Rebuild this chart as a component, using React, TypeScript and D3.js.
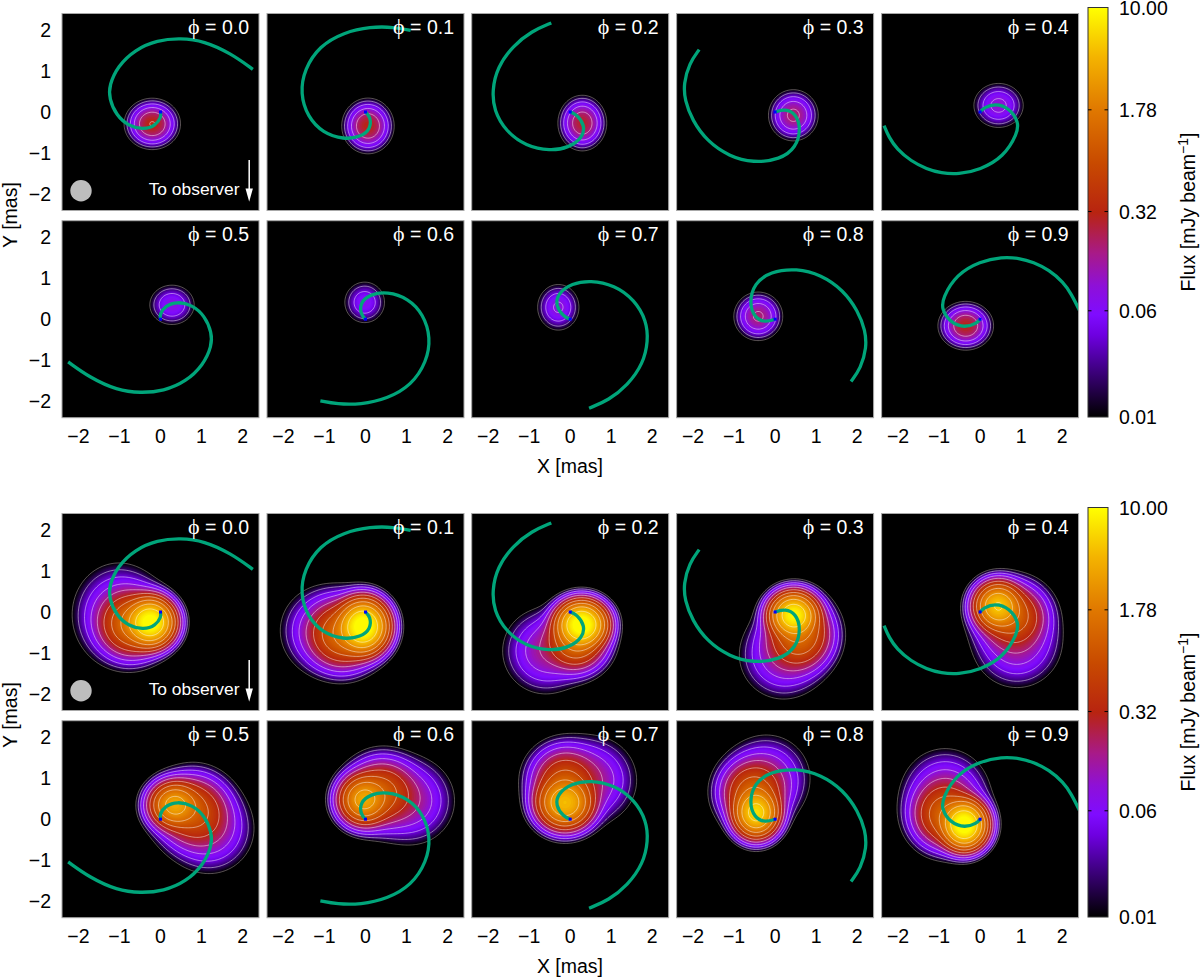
import * as d3 from 'd3';
import { useMemo } from 'react';

// phases and axis labels
const phases = ['0.0', '0.1', '0.2', '0.3', '0.4', '0.5', '0.6', '0.7', '0.8', '0.9'];
const axisTicks = [-2, -1, 0, 1, 2];
const fluxTicks = [0.01, 0.06, 0.32, 1.78, 10.0];

// orbit arm per phase, [x, y] in mas
const arms: number[][][] = [
  [[0, 0], [0.02, -0.12], [-0.12, -0.33], [-0.41, -0.43], [-0.77, -0.35], [-1.08, -0.08], [-1.25, 0.33], [-1.25, 0.65], [-1.04, 1.12], [-0.62, 1.52], [-0.08, 1.75], [0.49, 1.8], [1.06, 1.73], [1.71, 1.43], [2.25, 1.04]],
  [[0, 0], [0.12, -0.12], [0.13, -0.41], [-0.12, -0.61], [-0.53, -0.67], [-1.04, -0.51], [-1.41, -0.12], [-1.59, 0.45], [-1.49, 1.04], [-1.12, 1.61], [-0.53, 1.94], [0.12, 2.08], [0.69, 2.07], [1.1, 1.99]],
  [[0, 0], [0.16, -0.06], [0.36, -0.33], [0.3, -0.63], [-0.04, -0.87], [-0.49, -0.95], [-1.08, -0.83], [-1.57, -0.47], [-1.86, 0.04], [-1.9, 0.53], [-1.78, 1.08], [-1.4, 1.61], [-0.94, 1.97], [-0.46, 2.17]],
  [[0, 0], [0.24, 0.08], [0.51, -0.04], [0.63, -0.41], [0.51, -0.87], [0.12, -1.16], [-0.53, -1.24], [-1.12, -1.08], [-1.66, -0.71], [-2.02, -0.2], [-2.2, 0.28], [-2.23, 0.69], [-2.09, 1.19], [-1.85, 1.52]],
  [[0, 0], [0.08, 0.1], [0.37, 0.21], [0.72, 0.09], [0.94, -0.25], [0.91, -0.52], [0.58, -1.09], [0, -1.41], [-0.53, -1.52], [-0.95, -1.49], [-1.3, -1.39], [-1.68, -1.2], [-2.03, -0.9], [-2.22, -0.62], [-2.34, -0.33]],
  [[0, 0], [-0.02, 0.12], [0.12, 0.33], [0.41, 0.43], [0.77, 0.35], [1.08, 0.08], [1.25, -0.33], [1.25, -0.65], [1.04, -1.12], [0.62, -1.52], [0.08, -1.75], [-0.49, -1.8], [-1.06, -1.73], [-1.71, -1.43], [-2.25, -1.04]],
  [[0, 0], [-0.12, 0.12], [-0.13, 0.41], [0.12, 0.61], [0.53, 0.67], [1.04, 0.51], [1.41, 0.12], [1.59, -0.45], [1.49, -1.04], [1.12, -1.61], [0.53, -1.94], [-0.12, -2.08], [-0.69, -2.07], [-1.1, -1.99]],
  [[0, 0], [-0.16, 0.06], [-0.36, 0.33], [-0.3, 0.63], [0.04, 0.87], [0.49, 0.95], [1.08, 0.83], [1.57, 0.47], [1.86, -0.04], [1.9, -0.53], [1.78, -1.08], [1.4, -1.61], [0.94, -1.97], [0.46, -2.17]],
  [[0, 0], [-0.24, -0.08], [-0.51, 0.04], [-0.63, 0.41], [-0.51, 0.87], [-0.12, 1.16], [0.53, 1.24], [1.12, 1.08], [1.66, 0.71], [2.02, 0.2], [2.2, -0.28], [2.23, -0.69], [2.09, -1.19], [1.85, -1.52]],
  [[0, 0], [-0.08, -0.1], [-0.37, -0.21], [-0.72, -0.09], [-0.94, 0.25], [-0.91, 0.52], [-0.58, 1.09], [0, 1.41], [0.53, 1.52], [0.95, 1.49], [1.3, 1.39], [1.68, 1.2], [2.03, 0.9], [2.22, 0.62], [2.42, 0.22]],
];

// emission components per phase: [x, y, sigma x, sigma y, flux]
const compactFlux: number[][][] = [
  [[-0.2, -0.29, 0.26, 0.237, 0.33]],
  [[0.06, -0.34, 0.244, 0.259, 0.31]],
  [[0.295, -0.27, 0.232, 0.264, 0.27]],
  [[0.445, -0.08, 0.25, 0.257, 0.19]],
  [[0.45, 0.16, 0.28, 0.25, 0.1]],
  [[0.28, 0.35, 0.265, 0.235, 0.08]],
  [[-0.02, 0.41, 0.245, 0.25, 0.07]],
  [[-0.29, 0.29, 0.24, 0.265, 0.09]],
  [[-0.41, 0.07, 0.248, 0.246, 0.18]],
  [[-0.35, -0.16, 0.26, 0.228, 0.3]],
];
const extendedFlux: number[][][] = [
  [[-0.24, -0.25, 0.25, 0.25, 11], [-0.7, -0.3, 0.36, 0.36, 1.3], [-1.02, -0.05, 0.49, 0.54, 0.14]],
  [[-0.05, -0.35, 0.26, 0.28, 12], [-0.55, -0.55, 0.38, 0.38, 1.2], [-1.0, -0.45, 0.465, 0.465, 0.14]],
  [[0.28, -0.3, 0.26, 0.24, 12], [0.15, -0.7, 0.33, 0.33, 1.3], [-0.6, -0.95, 0.455, 0.455, 0.14]],
  [[0.45, -0.07, 0.25, 0.235, 9], [0.6, -0.55, 0.36, 0.38, 1.2], [0.2, -1.05, 0.465, 0.465, 0.14]],
  [[0.43, 0.15, 0.25, 0.25, 5], [0.8, -0.1, 0.38, 0.36, 0.9], [0.9, -0.75, 0.475, 0.475, 0.14]],
  [[0.33, 0.35, 0.27, 0.25, 3.2], [0.8, 0.2, 0.4, 0.4, 0.8], [1.2, -0.25, 0.465, 0.465, 0.14]],
  [[-0.05, 0.47, 0.27, 0.27, 3.2], [0.4, 0.65, 0.38, 0.38, 0.8], [1.1, 0.45, 0.465, 0.465, 0.14]],
  [[-0.13, 0.39, 0.3, 0.28, 4.5], [-0.15, 0.95, 0.38, 0.38, 0.65], [0.55, 0.95, 0.465, 0.465, 0.14]],
  [[-0.46, 0.15, 0.24, 0.26, 6.5], [-0.55, 0.65, 0.36, 0.36, 0.9], [-0.2, 1.0, 0.455, 0.455, 0.14]],
  [[-0.38, -0.14, 0.235, 0.25, 12], [-0.85, 0.1, 0.37, 0.37, 1.0], [-0.85, 0.65, 0.465, 0.465, 0.14]],
];

// colour bar, position on the log axis and colour
const paletteStops = [0, 0.125, 0.2, 0.25, 0.32, 0.4, 0.5, 0.62, 0.75, 0.88, 1];
const paletteColors = ['#000000', '#44008c', '#6e00e0', '#7f0cff', '#8e10d8', '#a81a88', '#b82410', '#c84a00', '#e07800', '#f4b400', '#ffff00'];
const contourLevels = [0.01, 0.02, 0.04, 0.08, 0.16, 0.32, 0.64, 1.28, 2.56, 5.12];

const panelSize = 197;
const colX = [62, 267, 471.7, 676.6, 881.6];
const rowY = [13.5, 220.7];
const blockY = [0, 500];
const barH = 409.5;
const font = '"Liberation Sans", Arial, sans-serif';
const gridN = 144;

const xScale = d3.scaleLinear().domain([-2.4, 2.4]).range([0, panelSize]);
const yScale = d3.scaleLinear().domain([-2.4, 2.4]).range([panelSize, 0]);
const fluxScale = d3.scaleLog().domain([0.01, 10]).range([barH, 0]);
const colorOf = d3.scaleLinear<string>().domain(paletteStops).range(paletteColors).clamp(true);
const armLine = d3
  .line()
  .x((d) => xScale(d[0]))
  .y((d) => yScale(d[1]))
  .curve(d3.curveBasis);
const gridPath = d3.geoPath(d3.geoIdentity().scale(panelSize / gridN));
const bandLevels = d3.range(0, 64).map((i) => -2 + (i * 3) / 64);

const fluxGrid = (comps: number[][]) => {
  const values = new Array(gridN * gridN);
  for (let j = 0; j < gridN; j++) {
    const y = yScale.invert(((j + 0.5) / gridN) * panelSize);
    for (let i = 0; i < gridN; i++) {
      const x = xScale.invert(((i + 0.5) / gridN) * panelSize);
      let f = 1e-6;
      comps.forEach(([cx, cy, sx, sy, amp]) => {
        f += amp * Math.exp(-((x - cx) ** 2) / (2 * sx * sx) - (y - cy) ** 2 / (2 * sy * sy));
      });
      values[j * gridN + i] = Math.log10(f);
    }
  }
  return values;
};

const Panel = ({ comps, phase, index, first }: any) => {
  const { bands, lines } = useMemo(() => {
    const values = fluxGrid(comps);
    const gen = d3.contours().size([gridN, gridN]);
    return {
      bands: gen.thresholds(bandLevels)(values),
      lines: gen.thresholds(contourLevels.map((l) => Math.log10(l)))(values),
    };
  }, [comps]);
  const clipId = `clip-${first ? 'a' : 'b'}-${index}`;
  return (
    <g>
      <clipPath id={clipId}>
        <rect width={panelSize} height={panelSize} />
      </clipPath>
      <rect width={panelSize} height={panelSize} fill="#000" />
      <g clipPath={`url(#${clipId})`}>
        {bands.map((b: any) => (
          <path key={b.value} d={gridPath(b) || ''} fill={colorOf((b.value + 2 + 1.5 / 64) / 3)} />
        ))}
        {lines.map((b: any, k: number) => (
          <path
            key={b.value}
            d={gridPath(b) || ''}
            fill="none"
            stroke={k === 0 ? '#e0d0d0' : '#fff'}
            strokeOpacity={k === 0 ? 0.5 : 0.6}
            strokeWidth={0.8}
          />
        ))}
        <path d={armLine(arms[index] as any) || ''} fill="none" stroke="#00a57a" strokeWidth={3.3} />
        <rect x={xScale(0) - 1.5} y={yScale(0) - 1.5} width={3} height={3} fill="#0000ff" />
      </g>
      <rect width={panelSize} height={panelSize} fill="none" stroke="#a8a8a8" strokeWidth={1} />
      <text x={187} y={20} textAnchor="end" fill="#fff" fontSize={19.5} fontFamily={font}>
        <tspan fontSize={22} fontFamily='"Liberation Serif", "DejaVu Serif", serif'>ϕ</tspan> = {phase}
      </text>
    </g>
  );
};

const Block = ({ offset, flux }: any) => (
  <g transform={`translate(0,${offset})`}>
    {phases.map((phase, i) => {
      const col = i % 5;
      const row = Math.floor(i / 5);
      return (
        <g key={phase} transform={`translate(${colX[col]},${rowY[row]})`}>
          <Panel comps={flux[i]} phase={phase} index={i} first={offset === 0} />
          {i === 0 && (
            <g>
              <circle cx={19} cy={177.2} r={10.7} fill="#bdbdbd" />
              <text x={177.5} y={181.5} textAnchor="end" fill="#fff" fontSize={17.4} fontFamily={font}>
                To observer
              </text>
              <line x1={187.2} x2={187.2} y1={146.5} y2={180} stroke="#fff" strokeWidth={1.5} />
              <path d="M183.5,175 L190.9,175 L187.2,188.3 Z" fill="#fff" />
            </g>
          )}
          {col === 0 &&
            axisTicks.map((t) => (
              <text key={t} x={-11} y={yScale(t) + 7} textAnchor="end" fontSize={19.5} fontFamily={font}>
                {t < 0 ? `\u2212${-t}` : t}
              </text>
            ))}
          {row === 1 &&
            axisTicks.map((t) => (
              <text key={t} x={xScale(t)} y={222.5} textAnchor="middle" fontSize={19.5} fontFamily={font}>
                {t < 0 ? `\u2212${-t}` : t}
              </text>
            ))}
        </g>
      );
    })}
    <text transform="translate(17,215) rotate(-90)" textAnchor="middle" fontSize={19.5} fontFamily={font}>
      Y [mas]
    </text>
    <text x={570} y={473} textAnchor="middle" fontSize={19.5} fontFamily={font}>
      X [mas]
    </text>
    <g transform="translate(1088,7.5)">
      <rect width={20} height={barH} fill={`url(#flux-bar)`} stroke="#333" strokeWidth={1} />
      {fluxTicks.map((t) => (
        <g key={t} transform={`translate(0,${fluxScale(t)})`}>
          {t !== 0.01 && t !== 10 && (
            <>
              <line x1={0} x2={3.5} stroke="#000" />
              <line x1={16.5} x2={20} stroke="#000" />
            </>
          )}
          <text x={31} y={7} fontSize={19.5} fontFamily={font}>
            {t.toFixed(2)}
          </text>
        </g>
      ))}
    </g>
    <text transform="translate(1195,212) rotate(-90)" textAnchor="middle" fontSize={19.5} fontFamily={font}>
      Flux [mJy beam
      <tspan dy={-7} fontSize={14}>
        −1
      </tspan>
      <tspan dy={7}>]</tspan>
    </text>
  </g>
);

export default function App() {
  return (
    <svg width={1200} height={978} style={{ position: 'absolute', left: 0, top: 0, background: '#fff' }}>
      <defs>
        <linearGradient id="flux-bar" x1="0" y1="1" x2="0" y2="0">
          {paletteStops.map((s, i) => (
            <stop key={s} offset={s} stopColor={paletteColors[i]} />
          ))}
        </linearGradient>
      </defs>
      <Block offset={blockY[0]} flux={compactFlux} />
      <Block offset={blockY[1]} flux={extendedFlux} />
    </svg>
  );
}
